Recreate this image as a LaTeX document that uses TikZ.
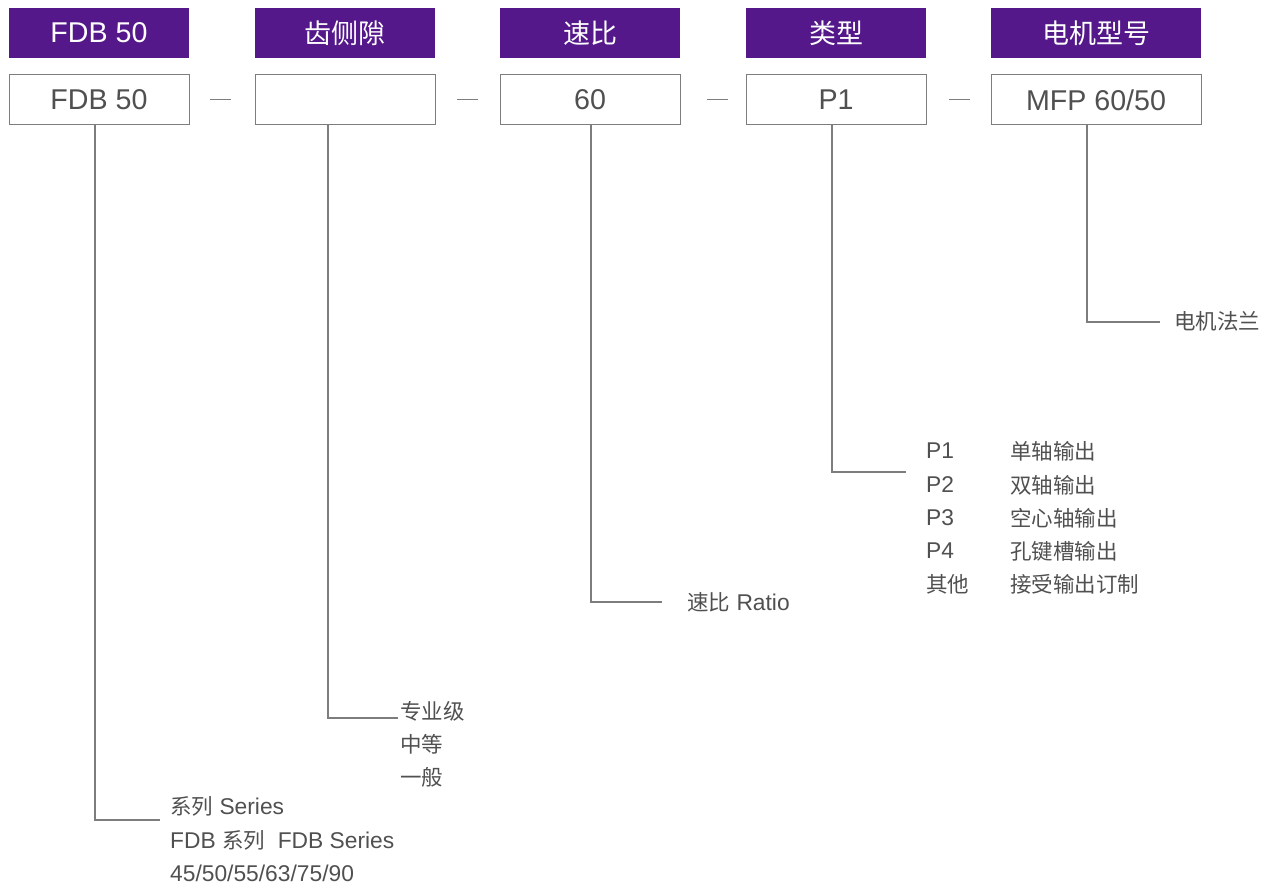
\documentclass[tikz,border=0pt]{standalone}
\usepackage{fontspec}
\setmainfont{Liberation Sans}[Scale=1.06]
\newfontfamily\cjk{Noto Sans CJK SC}
\definecolor{hdr}{RGB}{84,24,138}
\definecolor{txt}{RGB}{80,80,80}
\definecolor{ln}{RGB}{125,125,125}
\begin{document}
\begin{tikzpicture}[x=1pt,y=-1pt,
  hbox/.style={fill=hdr,text=white,minimum width=180pt,minimum height=50pt,inner sep=0pt,font=\fontsize{27}{30}\selectfont},
  vbox/.style={draw=ln,line width=1pt,fill=white,text=txt,minimum width=180pt,minimum height=50pt,inner sep=0pt,font=\fontsize{27}{30}\selectfont},
  conn/.style={draw=ln,line width=1.2pt},
  lbl/.style={anchor=west,inner sep=0pt,text=txt,font=\fontsize{21.5}{24}\selectfont},
  dashl/.style={draw=ln,line width=1pt}]
\useasboundingbox (0,0) rectangle (1264,890);
% headers
\node[hbox] (h1) at (99,33) {FDB 50};
\node[hbox] (h2) at (345,33) {\cjk 齿侧隙};
\node[hbox] (h3) at (590,33) {\cjk 速比};
\node[hbox] (h4) at (836,33) {\cjk 类型};
\node[hbox,minimum width=210pt] (h5) at (1096,33) {\cjk 电机型号};
% value boxes
\node[vbox] (b1) at (99,100) {FDB 50};
\node[vbox] (b2) at (345,100) {};
\node[vbox] (b3) at (590,100) {60};
\node[vbox] (b4) at (836,100) {P1};
\node[vbox,minimum width=210pt] (b5) at (1096,100) {MFP 60/50};
% dashes
\coordinate (d1a) at (210,100); \coordinate (d1b) at (231,100);
\coordinate (d2a) at (457,100); \coordinate (d2b) at (478,100);
\coordinate (d3a) at (707,100); \coordinate (d3b) at (728,100);
\coordinate (d4a) at (949,100); \coordinate (d4b) at (970,100);
\draw[dashl] (d1a) -- (d1b);
\draw[dashl] (d2a) -- (d2b);
\draw[dashl] (d3a) -- (d3b);
\draw[dashl] (d4a) -- (d4b);
% connector ends
\coordinate (e1) at (160,820);
\coordinate (e2) at (398,718);
\coordinate (e3) at (662,602);
\coordinate (e4) at (906,472);
\coordinate (e5) at (1160,322);
\coordinate (x1) at (95,0);
\coordinate (x2) at (328,0);
\coordinate (x3) at (591,0);
\coordinate (x4) at (832,0);
\coordinate (x5) at (1087,0);
\draw[conn] (b1.south -| x1) |- (e1);
\draw[conn] (b2.south -| x2) |- (e2);
\draw[conn] (b3.south -| x3) |- (e3);
\draw[conn] (b4.south -| x4) |- (e4);
\draw[conn] (b5.south -| x5) |- (e5);
% labels
\node[lbl] (s1) at (170,806) {{\cjk 系列} Series};
\node[lbl] (s2) at (170,840) {FDB {\cjk 系列}\ \ FDB Series};
\node[lbl] (s3) at (170,873) {45/50/55/63/75/90};
\node[lbl] (g1) at (400,711) {\cjk 专业级};
\node[lbl] (g2) at (400,744) {\cjk 中等};
\node[lbl] (g3) at (400,777) {\cjk 一般};
\node[lbl] (r1) at (687,602) {{\cjk 速比} Ratio};
\node[lbl] (p1) at (926,451) {P1};
\node[lbl] (p2) at (926,485) {P2};
\node[lbl] (p3) at (926,518) {P3};
\node[lbl] (p4) at (926,551) {P4};
\node[lbl] (p5) at (926,584) {\cjk 其他};
\node[lbl] (q1) at (1010,451) {\cjk 单轴输出};
\node[lbl] (q2) at (1010,485) {\cjk 双轴输出};
\node[lbl] (q3) at (1010,518) {\cjk 空心轴输出};
\node[lbl] (q4) at (1010,551) {\cjk 孔键槽输出};
\node[lbl] (q5) at (1010,584) {\cjk 接受输出订制};
\node[lbl] (m1) at (1174,321) {\cjk 电机法兰};
\end{tikzpicture}
\end{document}
